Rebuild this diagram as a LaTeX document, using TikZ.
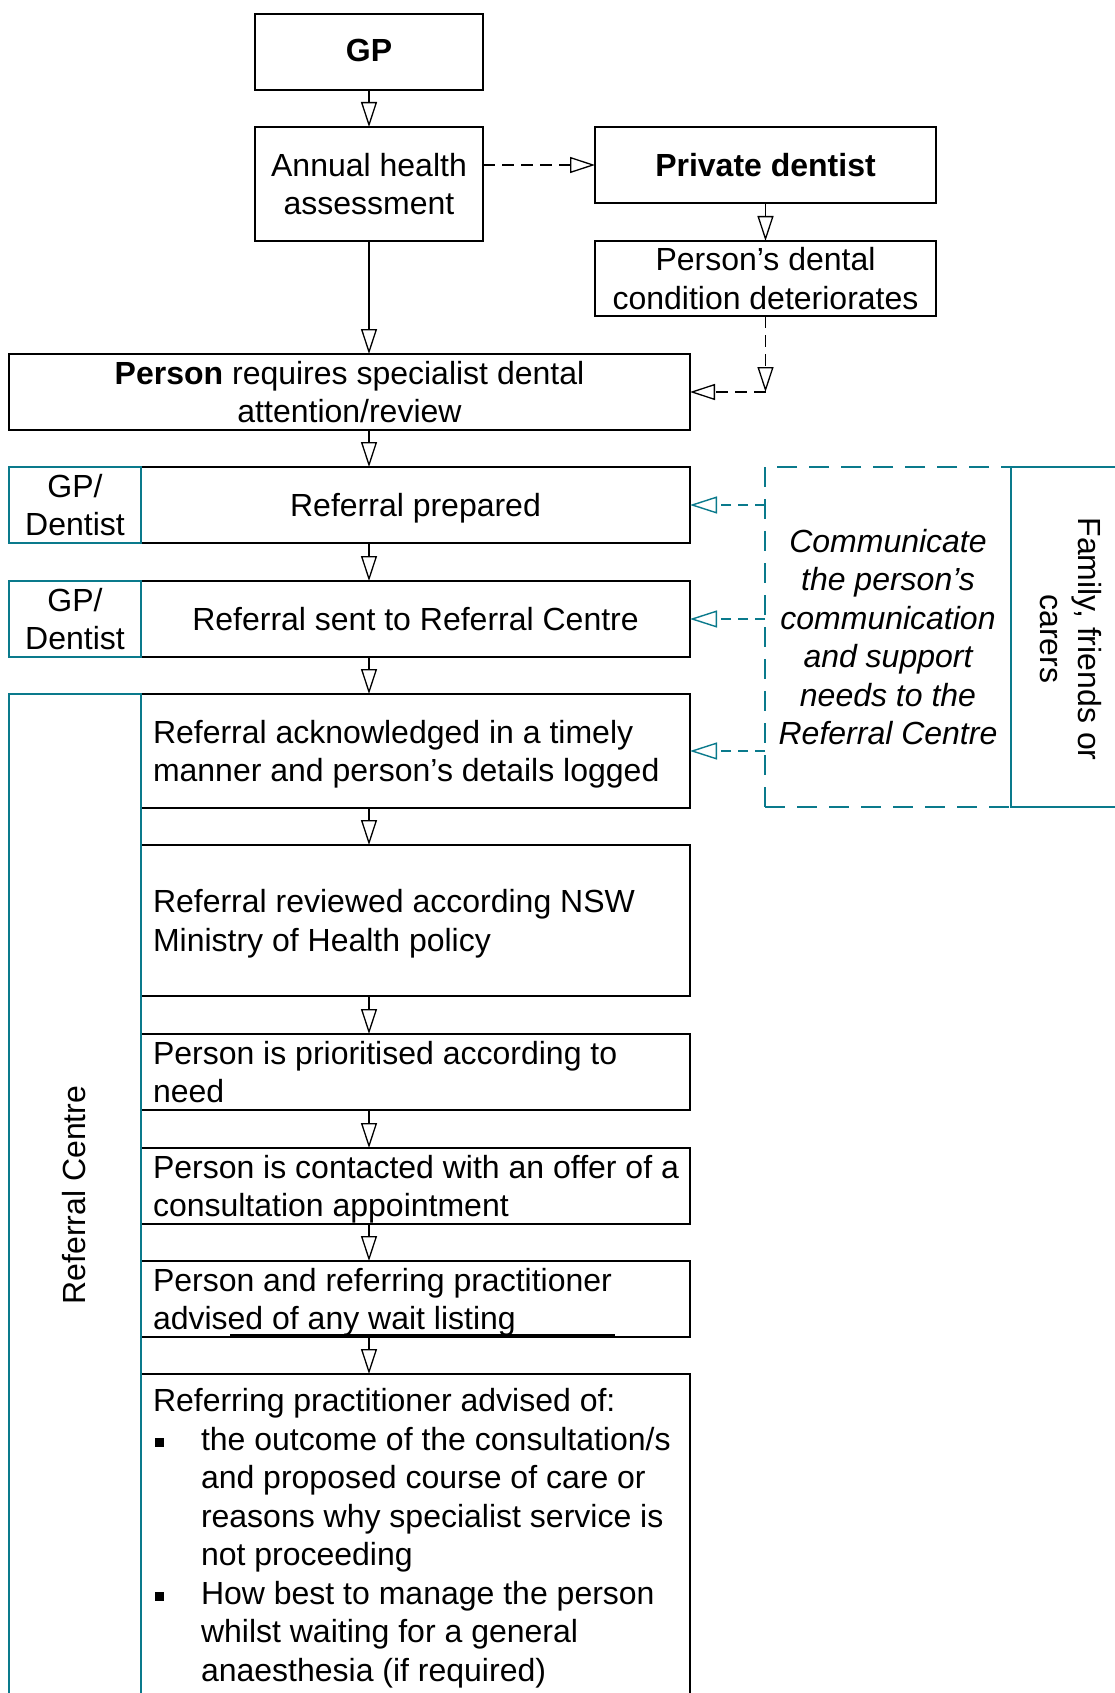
\documentclass[tikz,border=0pt]{standalone}
\usepackage{fontspec}
\setmainfont{Liberation Sans}
\usetikzlibrary{arrows.meta}
\definecolor{tealc}{RGB}{10,122,140}
\newcommand{\tS}{\rule{0pt}{34.5pt}}
\newcommand{\bS}{\rule[-11.5pt]{0pt}{11.5pt}}
\begin{document}
\begin{tikzpicture}[x=1pt,y=-1pt,
  every node/.style={font=\fontsize{32}{38.5}\selectfont, inner sep=0pt, outer sep=0pt},
  blackbox/.style={draw=black, line width=2.6pt},
  tealbox/.style={draw=tealc, line width=2.8pt},
  ctxt/.style={align=center},
  txt/.style={align=left, anchor=west},
  arr/.style={draw=black, line width=1.3pt, -{Triangle[open, length=25pt, width=16pt]}},
  darr/.style={arr, dash pattern=on 12pt off 7pt},
  tarr/.style={draw=tealc, line width=1.4pt, dash pattern=on 10pt off 7pt, -{Triangle[open, length=27pt, width=17pt]}},
]
\useasboundingbox (0,0) rectangle (1115,1693);
\clip (0,0) rectangle (1115,1693);
\fill[white] (0,0) rectangle (1115,1693);

% top boxes
\node[blackbox, minimum width=228pt, minimum height=76pt] (gp) at (369,52) {};
\node[blackbox, minimum width=228pt, minimum height=114pt] (annual) at (369,184) {};
\node[blackbox, minimum width=341pt, minimum height=76pt] (private) at (765.5,165) {};
\node[blackbox, minimum width=341pt, minimum height=75pt] (dental) at (765.5,278.5) {};
\node[blackbox, minimum width=681pt, minimum height=76pt] (person) at (349.5,392) {};

\node[ctxt] (gpt) at ([yshift=2pt]gp.center) {\textbf{GP}};
\node[ctxt] (annualt) at (annual.center) {\tS Annual health\\assessment\bS};
\node[ctxt] (privatet) at (private.center) {\tS\textbf{Private dentist}\bS};
\node[ctxt] (dentalt) at (dental.center) {\tS Person’s dental\\condition deteriorates\bS};
\node[ctxt] (persont) at (person.center) {\tS\textbf{Person} requires specialist dental\\attention/review\bS};

% referral boxes
\node[blackbox, minimum width=549pt, minimum height=76pt] (prep) at (415.5,505) {};
\node[blackbox, minimum width=549pt, minimum height=76pt] (sent) at (415.5,619) {};
\node[blackbox, minimum width=549pt, minimum height=114pt] (ack) at (415.5,751) {};
\node[blackbox, minimum width=549pt, minimum height=151pt] (rev) at (415.5,920.5) {};
\node[blackbox, minimum width=549pt, minimum height=76pt] (prio) at (415.5,1072) {};
\node[blackbox, minimum width=549pt, minimum height=76pt] (cont) at (415.5,1186) {};
\node[blackbox, minimum width=549pt, minimum height=76pt] (wait) at (415.5,1299) {};
\node[blackbox, minimum width=549pt, minimum height=346pt] (refer) at (415.5,1547) {};

\node[ctxt] (prept) at (prep.center) {\tS Referral prepared\bS};
\node[ctxt] (sentt) at (sent.center) {\tS Referral sent to Referral Centre\bS};
\node[txt] (ackt) at (153,751) {\tS Referral acknowledged in a timely\\manner and person’s details logged\bS};
\node[txt] (revt) at (153,920.5) {\tS Referral reviewed according NSW\\Ministry of Health policy\bS};
\node[txt] (priot) at (153,1072) {\tS Person is prioritised according to\\need\bS};
\node[txt] (contt) at (153,1186) {\tS Person is contacted with an offer of a\\consultation appointment\bS};
\node[txt] (waitt) at (153,1299) {\tS Person and referring practitioner\\advised of any wait listing\bS};
\draw[line width=2pt] (230,1335) -- (615,1335);

\node[align=left, anchor=north west] (refert) at (153,1385) {\strut Referring practitioner advised of:\\
\makebox[48pt][l]{\hspace*{2pt}\rule[3.5pt]{9pt}{9pt}}the outcome of the consultation/s\\
\hspace*{48pt}and proposed course of care or\\
\hspace*{48pt}reasons why specialist service is\\
\hspace*{48pt}not proceeding\\
\makebox[48pt][l]{\hspace*{2pt}\rule[3.5pt]{9pt}{9pt}}How best to manage the person\\
\hspace*{48pt}whilst waiting for a general\\
\hspace*{48pt}anaesthesia (if required)\strut};

% arrows
\draw[arr] (gp.south) -- (annual.north);
\draw[darr] (annual.east |- private.west) -- (private.west);
\draw[arr] (private.south) -- (dental.north);
\draw[arr] (annual.south) -- (annual.south |- person.north);
\coordinate (corner) at (dental.south |- person.east);
\draw[darr] (dental.south) -- (corner);
\draw[darr] (corner) -- (person.east);
\draw[arr] (gp.south |- person.south) -- (gp.south |- prep.north);
\draw[arr] (gp.south |- prep.south) -- (gp.south |- sent.north);
\draw[arr] (gp.south |- sent.south) -- (gp.south |- ack.north);
\draw[arr] (gp.south |- ack.south) -- (gp.south |- rev.north);
\draw[arr] (gp.south |- rev.south) -- (gp.south |- prio.north);
\draw[arr] (gp.south |- prio.south) -- (gp.south |- cont.north);
\draw[arr] (gp.south |- cont.south) -- (gp.south |- wait.north);
\draw[arr] (gp.south |- wait.south) -- (gp.south |- refer.north);

% teal role boxes
\node[tealbox, minimum width=132pt, minimum height=76pt] (gpd1) at (75,505) {};
\node[tealbox, minimum width=132pt, minimum height=76pt] (gpd2) at (75,619) {};
\node[ctxt] (gpd1t) at (gpd1.center) {\tS GP/\\Dentist\bS};
\node[ctxt] (gpd2t) at (gpd2.center) {\tS GP/\\Dentist\bS};
\node[tealbox, minimum width=132pt, minimum height=1026pt] (rc) at (75,1207) {};
\node[rotate=90] (rct) at (74,1195) {Referral Centre};

% communicate and family
\node[draw=tealc, line width=2.8pt, dash pattern=on 20pt off 12pt, minimum width=246pt, minimum height=340pt] (comm) at (888,637) {};
\node[align=center, font=\fontsize{32}{38.5}\selectfont\itshape] (commt) at (888,637) {\tS Communicate\\the person’s\\communication\\and support\\needs to the\\Referral Centre\bS};
\node[tealbox, minimum width=129pt, minimum height=340pt] (family) at (1075.5,637) {};
\node[rotate=-90, align=center] (famt) at (1067,639) {\strut Family, friends or\\carers\strut};

\draw[tarr] (comm.west |- prep.east) -- (prep.east);
\draw[tarr] (comm.west |- sent.east) -- (sent.east);
\draw[tarr] (comm.west |- ack.east) -- (ack.east);
\end{tikzpicture}
\end{document}
